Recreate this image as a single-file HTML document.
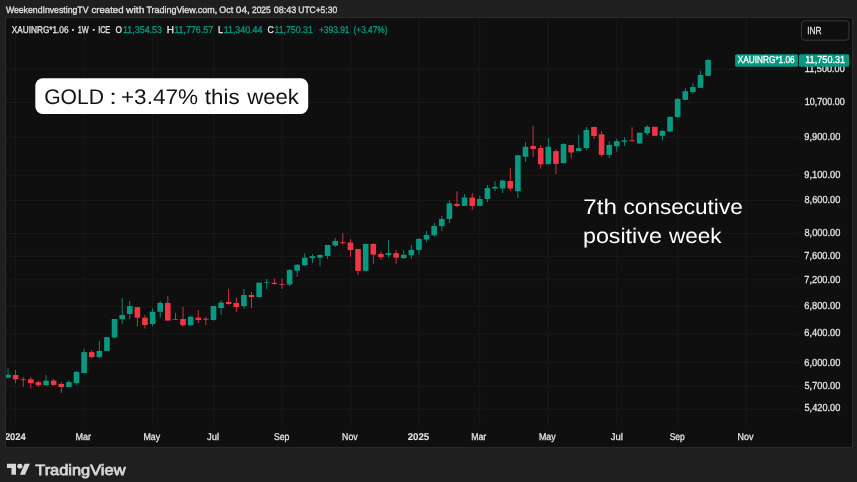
<!DOCTYPE html>
<html lang="en"><head><meta charset="utf-8"><title>XAUINRG chart</title>
<style>html,body{margin:0;padding:0;background:#1f1f1f;width:857px;height:482px;overflow:hidden;}svg{display:block;}text{font-family:"Liberation Sans","DejaVu Sans",sans-serif;text-rendering:geometricPrecision;}</style></head><body>
<svg width="857" height="482" viewBox="0 0 857 482">
<rect x="0" y="0" width="857" height="482" fill="#1f1f1f"/>
<rect x="5.50" y="17.50" width="847.00" height="429.90" fill="#0f0f0f" stroke="#2b2b2b" stroke-width="1"/>
<defs><clipPath id="pane"><rect x="6.00" y="18.00" width="846.00" height="428.90"/></clipPath></defs>
<g clip-path="url(#pane)">
<line x1="15.61" y1="17.50" x2="15.61" y2="425.60" stroke="#191919" stroke-width="1"/>
<line x1="84.10" y1="17.50" x2="84.10" y2="425.60" stroke="#191919" stroke-width="1"/>
<line x1="152.59" y1="17.50" x2="152.59" y2="425.60" stroke="#191919" stroke-width="1"/>
<line x1="213.47" y1="17.50" x2="213.47" y2="425.60" stroke="#191919" stroke-width="1"/>
<line x1="281.96" y1="17.50" x2="281.96" y2="425.60" stroke="#191919" stroke-width="1"/>
<line x1="350.45" y1="17.50" x2="350.45" y2="425.60" stroke="#191919" stroke-width="1"/>
<line x1="418.94" y1="17.50" x2="418.94" y2="425.60" stroke="#191919" stroke-width="1"/>
<line x1="479.82" y1="17.50" x2="479.82" y2="425.60" stroke="#191919" stroke-width="1"/>
<line x1="548.31" y1="17.50" x2="548.31" y2="425.60" stroke="#191919" stroke-width="1"/>
<line x1="616.80" y1="17.50" x2="616.80" y2="425.60" stroke="#191919" stroke-width="1"/>
<line x1="677.68" y1="17.50" x2="677.68" y2="425.60" stroke="#191919" stroke-width="1"/>
<line x1="746.17" y1="17.50" x2="746.17" y2="425.60" stroke="#191919" stroke-width="1"/>
<line x1="5.50" y1="69.30" x2="798.00" y2="69.30" stroke="#191919" stroke-width="1"/>
<line x1="5.50" y1="102.50" x2="798.00" y2="102.50" stroke="#191919" stroke-width="1"/>
<line x1="5.50" y1="137.30" x2="798.00" y2="137.30" stroke="#191919" stroke-width="1"/>
<line x1="5.50" y1="175.25" x2="798.00" y2="175.25" stroke="#191919" stroke-width="1"/>
<line x1="5.50" y1="200.60" x2="798.00" y2="200.60" stroke="#191919" stroke-width="1"/>
<line x1="5.50" y1="233.40" x2="798.00" y2="233.40" stroke="#191919" stroke-width="1"/>
<line x1="5.50" y1="256.30" x2="798.00" y2="256.30" stroke="#191919" stroke-width="1"/>
<line x1="5.50" y1="279.90" x2="798.00" y2="279.90" stroke="#191919" stroke-width="1"/>
<line x1="5.50" y1="306.40" x2="798.00" y2="306.40" stroke="#191919" stroke-width="1"/>
<line x1="5.50" y1="334.10" x2="798.00" y2="334.10" stroke="#191919" stroke-width="1"/>
<line x1="5.50" y1="362.25" x2="798.00" y2="362.25" stroke="#191919" stroke-width="1"/>
<line x1="5.50" y1="386.40" x2="798.00" y2="386.40" stroke="#191919" stroke-width="1"/>
<line x1="5.50" y1="409.30" x2="798.00" y2="409.30" stroke="#191919" stroke-width="1"/>
<rect x="7.58" y="368.10" width="0.85" height="9.60" fill="#089981"/>
<rect x="5.20" y="374.70" width="5.60" height="3.00" fill="#089981"/>
<rect x="15.18" y="370.00" width="0.85" height="13.10" fill="#f23645"/>
<rect x="12.81" y="375.00" width="5.60" height="4.30" fill="#f23645"/>
<rect x="22.79" y="377.10" width="0.85" height="9.70" fill="#f23645"/>
<rect x="20.42" y="379.30" width="5.60" height="0.75" fill="#f23645"/>
<rect x="30.41" y="376.80" width="0.85" height="11.60" fill="#f23645"/>
<rect x="28.03" y="379.30" width="5.60" height="3.80" fill="#f23645"/>
<rect x="38.02" y="380.60" width="0.85" height="6.20" fill="#f23645"/>
<rect x="35.64" y="382.20" width="5.60" height="3.00" fill="#f23645"/>
<rect x="45.63" y="375.00" width="0.85" height="10.20" fill="#089981"/>
<rect x="43.25" y="380.60" width="5.60" height="4.60" fill="#089981"/>
<rect x="53.24" y="379.00" width="0.85" height="7.00" fill="#f23645"/>
<rect x="50.86" y="380.60" width="5.60" height="4.30" fill="#f23645"/>
<rect x="60.85" y="382.20" width="0.85" height="10.90" fill="#f23645"/>
<rect x="58.47" y="383.90" width="5.60" height="3.20" fill="#f23645"/>
<rect x="68.45" y="380.20" width="0.85" height="6.90" fill="#089981"/>
<rect x="66.08" y="382.10" width="5.60" height="5.00" fill="#089981"/>
<rect x="76.07" y="371.00" width="0.85" height="13.90" fill="#089981"/>
<rect x="73.69" y="371.80" width="5.60" height="11.30" fill="#089981"/>
<rect x="83.68" y="348.70" width="0.85" height="24.40" fill="#089981"/>
<rect x="81.30" y="352.10" width="5.60" height="21.00" fill="#089981"/>
<rect x="91.29" y="350.00" width="0.85" height="8.10" fill="#f23645"/>
<rect x="88.91" y="352.10" width="5.60" height="5.00" fill="#f23645"/>
<rect x="98.90" y="341.00" width="0.85" height="17.10" fill="#089981"/>
<rect x="96.52" y="350.90" width="5.60" height="6.20" fill="#089981"/>
<rect x="106.51" y="337.20" width="0.85" height="13.70" fill="#089981"/>
<rect x="104.13" y="337.20" width="5.60" height="13.70" fill="#089981"/>
<rect x="114.12" y="319.00" width="0.85" height="19.40" fill="#089981"/>
<rect x="111.74" y="319.00" width="5.60" height="18.40" fill="#089981"/>
<rect x="121.73" y="298.10" width="0.85" height="25.90" fill="#089981"/>
<rect x="119.35" y="315.00" width="5.60" height="4.30" fill="#089981"/>
<rect x="129.33" y="300.90" width="0.85" height="18.40" fill="#089981"/>
<rect x="126.96" y="306.00" width="5.60" height="8.00" fill="#089981"/>
<rect x="136.94" y="307.10" width="0.85" height="19.10" fill="#f23645"/>
<rect x="134.57" y="307.10" width="5.60" height="10.60" fill="#f23645"/>
<rect x="144.56" y="315.00" width="0.85" height="13.50" fill="#f23645"/>
<rect x="142.18" y="317.70" width="5.60" height="7.30" fill="#f23645"/>
<rect x="152.16" y="308.50" width="0.85" height="17.70" fill="#089981"/>
<rect x="149.79" y="311.80" width="5.60" height="12.20" fill="#089981"/>
<rect x="159.78" y="301.20" width="0.85" height="16.50" fill="#089981"/>
<rect x="157.40" y="302.90" width="5.60" height="8.90" fill="#089981"/>
<rect x="167.38" y="296.20" width="0.85" height="24.40" fill="#f23645"/>
<rect x="165.01" y="302.90" width="5.60" height="17.70" fill="#f23645"/>
<rect x="175.00" y="312.80" width="0.85" height="6.90" fill="#089981"/>
<rect x="172.62" y="319.00" width="5.60" height="0.75" fill="#089981"/>
<rect x="182.60" y="306.90" width="0.85" height="19.90" fill="#f23645"/>
<rect x="180.23" y="319.00" width="5.60" height="6.20" fill="#f23645"/>
<rect x="190.22" y="315.80" width="0.85" height="10.40" fill="#089981"/>
<rect x="187.84" y="316.80" width="5.60" height="8.40" fill="#089981"/>
<rect x="197.82" y="310.00" width="0.85" height="13.10" fill="#f23645"/>
<rect x="195.45" y="317.70" width="5.60" height="2.30" fill="#f23645"/>
<rect x="205.44" y="316.80" width="0.85" height="8.20" fill="#f23645"/>
<rect x="203.06" y="318.70" width="5.60" height="1.00" fill="#f23645"/>
<rect x="213.04" y="306.00" width="0.85" height="14.60" fill="#089981"/>
<rect x="210.67" y="306.00" width="5.60" height="14.00" fill="#089981"/>
<rect x="220.66" y="300.00" width="0.85" height="14.80" fill="#089981"/>
<rect x="218.28" y="302.60" width="5.60" height="5.40" fill="#089981"/>
<rect x="228.26" y="288.70" width="0.85" height="16.20" fill="#f23645"/>
<rect x="225.89" y="302.00" width="5.60" height="2.00" fill="#f23645"/>
<rect x="235.88" y="297.80" width="0.85" height="14.00" fill="#f23645"/>
<rect x="233.50" y="303.00" width="5.60" height="4.00" fill="#f23645"/>
<rect x="243.48" y="289.00" width="0.85" height="19.80" fill="#089981"/>
<rect x="241.11" y="295.00" width="5.60" height="11.10" fill="#089981"/>
<rect x="251.09" y="292.10" width="0.85" height="16.00" fill="#f23645"/>
<rect x="248.72" y="295.00" width="5.60" height="2.10" fill="#f23645"/>
<rect x="258.70" y="282.70" width="0.85" height="14.40" fill="#089981"/>
<rect x="256.33" y="282.70" width="5.60" height="14.40" fill="#089981"/>
<rect x="266.31" y="279.00" width="0.85" height="10.30" fill="#089981"/>
<rect x="263.94" y="282.20" width="5.60" height="0.75" fill="#089981"/>
<rect x="273.93" y="278.50" width="0.85" height="6.20" fill="#f23645"/>
<rect x="271.55" y="282.80" width="5.60" height="1.20" fill="#f23645"/>
<rect x="281.54" y="278.50" width="0.85" height="10.50" fill="#f23645"/>
<rect x="279.16" y="284.10" width="5.60" height="0.75" fill="#f23645"/>
<rect x="289.14" y="269.00" width="0.85" height="17.20" fill="#089981"/>
<rect x="286.77" y="270.00" width="5.60" height="14.50" fill="#089981"/>
<rect x="296.75" y="264.00" width="0.85" height="12.80" fill="#089981"/>
<rect x="294.38" y="264.80" width="5.60" height="5.90" fill="#089981"/>
<rect x="304.37" y="253.10" width="0.85" height="12.90" fill="#089981"/>
<rect x="301.99" y="257.70" width="5.60" height="7.50" fill="#089981"/>
<rect x="311.98" y="254.00" width="0.85" height="9.10" fill="#089981"/>
<rect x="309.60" y="256.20" width="5.60" height="1.90" fill="#089981"/>
<rect x="319.58" y="254.30" width="0.85" height="11.70" fill="#089981"/>
<rect x="317.21" y="255.00" width="5.60" height="2.70" fill="#089981"/>
<rect x="327.19" y="245.00" width="0.85" height="14.00" fill="#089981"/>
<rect x="324.82" y="245.00" width="5.60" height="11.00" fill="#089981"/>
<rect x="334.81" y="237.90" width="0.85" height="8.90" fill="#089981"/>
<rect x="332.43" y="240.90" width="5.60" height="4.70" fill="#089981"/>
<rect x="342.42" y="233.10" width="0.85" height="11.30" fill="#f23645"/>
<rect x="340.04" y="242.20" width="5.60" height="0.90" fill="#f23645"/>
<rect x="350.02" y="239.10" width="0.85" height="17.70" fill="#f23645"/>
<rect x="347.65" y="242.50" width="5.60" height="7.50" fill="#f23645"/>
<rect x="357.63" y="249.00" width="0.85" height="25.90" fill="#f23645"/>
<rect x="355.26" y="249.00" width="5.60" height="21.90" fill="#f23645"/>
<rect x="365.25" y="244.00" width="0.85" height="26.90" fill="#089981"/>
<rect x="362.87" y="244.00" width="5.60" height="26.90" fill="#089981"/>
<rect x="372.86" y="243.10" width="0.85" height="20.60" fill="#f23645"/>
<rect x="370.48" y="244.00" width="5.60" height="10.60" fill="#f23645"/>
<rect x="380.47" y="251.80" width="0.85" height="8.20" fill="#f23645"/>
<rect x="378.09" y="254.00" width="5.60" height="3.20" fill="#f23645"/>
<rect x="388.07" y="240.00" width="0.85" height="17.50" fill="#089981"/>
<rect x="385.70" y="253.20" width="5.60" height="1.80" fill="#089981"/>
<rect x="395.69" y="250.00" width="0.85" height="13.70" fill="#f23645"/>
<rect x="393.31" y="253.10" width="5.60" height="4.60" fill="#f23645"/>
<rect x="403.30" y="250.20" width="0.85" height="8.70" fill="#089981"/>
<rect x="400.92" y="254.70" width="5.60" height="3.40" fill="#089981"/>
<rect x="410.91" y="245.00" width="0.85" height="13.90" fill="#089981"/>
<rect x="408.53" y="249.90" width="5.60" height="5.30" fill="#089981"/>
<rect x="418.51" y="238.10" width="0.85" height="16.80" fill="#089981"/>
<rect x="416.14" y="239.00" width="5.60" height="10.90" fill="#089981"/>
<rect x="426.12" y="231.00" width="0.85" height="11.10" fill="#089981"/>
<rect x="423.75" y="235.00" width="5.60" height="4.60" fill="#089981"/>
<rect x="433.74" y="222.90" width="0.85" height="13.90" fill="#089981"/>
<rect x="431.36" y="226.00" width="5.60" height="9.20" fill="#089981"/>
<rect x="441.35" y="216.00" width="0.85" height="15.00" fill="#089981"/>
<rect x="438.97" y="219.00" width="5.60" height="7.20" fill="#089981"/>
<rect x="448.95" y="200.20" width="0.85" height="22.90" fill="#089981"/>
<rect x="446.58" y="203.30" width="5.60" height="15.60" fill="#089981"/>
<rect x="456.56" y="191.20" width="0.85" height="15.90" fill="#f23645"/>
<rect x="454.19" y="203.90" width="5.60" height="2.00" fill="#f23645"/>
<rect x="464.18" y="194.00" width="0.85" height="11.90" fill="#089981"/>
<rect x="461.80" y="197.50" width="5.60" height="8.40" fill="#089981"/>
<rect x="471.79" y="193.10" width="0.85" height="16.80" fill="#f23645"/>
<rect x="469.41" y="197.50" width="5.60" height="8.40" fill="#f23645"/>
<rect x="479.39" y="196.00" width="0.85" height="9.90" fill="#089981"/>
<rect x="477.02" y="199.00" width="5.60" height="6.90" fill="#089981"/>
<rect x="487.00" y="185.00" width="0.85" height="17.20" fill="#089981"/>
<rect x="484.63" y="188.10" width="5.60" height="10.90" fill="#089981"/>
<rect x="494.62" y="181.00" width="0.85" height="10.00" fill="#089981"/>
<rect x="492.24" y="186.80" width="5.60" height="1.70" fill="#089981"/>
<rect x="502.23" y="179.70" width="0.85" height="13.40" fill="#089981"/>
<rect x="499.85" y="180.60" width="5.60" height="7.90" fill="#089981"/>
<rect x="509.84" y="168.10" width="0.85" height="22.90" fill="#f23645"/>
<rect x="507.46" y="181.00" width="5.60" height="7.50" fill="#f23645"/>
<rect x="517.45" y="155.00" width="0.85" height="43.10" fill="#089981"/>
<rect x="515.07" y="155.30" width="5.60" height="35.90" fill="#089981"/>
<rect x="525.06" y="142.20" width="0.85" height="19.60" fill="#089981"/>
<rect x="522.68" y="146.80" width="5.60" height="10.00" fill="#089981"/>
<rect x="532.67" y="126.00" width="0.85" height="30.80" fill="#f23645"/>
<rect x="530.29" y="146.00" width="5.60" height="3.00" fill="#f23645"/>
<rect x="540.28" y="145.00" width="0.85" height="23.70" fill="#f23645"/>
<rect x="537.90" y="148.10" width="5.60" height="16.20" fill="#f23645"/>
<rect x="547.89" y="138.10" width="0.85" height="26.20" fill="#089981"/>
<rect x="545.51" y="146.80" width="5.60" height="17.50" fill="#089981"/>
<rect x="555.50" y="149.30" width="0.85" height="24.60" fill="#f23645"/>
<rect x="553.12" y="151.20" width="5.60" height="12.70" fill="#f23645"/>
<rect x="563.11" y="143.10" width="0.85" height="20.60" fill="#089981"/>
<rect x="560.73" y="144.00" width="5.60" height="19.10" fill="#089981"/>
<rect x="570.72" y="145.00" width="0.85" height="13.50" fill="#f23645"/>
<rect x="568.34" y="145.00" width="5.60" height="7.50" fill="#f23645"/>
<rect x="578.33" y="135.00" width="0.85" height="16.00" fill="#089981"/>
<rect x="575.95" y="148.10" width="5.60" height="2.90" fill="#089981"/>
<rect x="585.94" y="127.20" width="0.85" height="22.80" fill="#089981"/>
<rect x="583.56" y="130.00" width="5.60" height="18.10" fill="#089981"/>
<rect x="593.55" y="126.90" width="0.85" height="12.10" fill="#f23645"/>
<rect x="591.17" y="126.90" width="5.60" height="9.10" fill="#f23645"/>
<rect x="601.16" y="131.20" width="0.85" height="25.60" fill="#f23645"/>
<rect x="598.78" y="134.30" width="5.60" height="20.60" fill="#f23645"/>
<rect x="608.77" y="141.20" width="0.85" height="16.90" fill="#089981"/>
<rect x="606.39" y="144.90" width="5.60" height="10.00" fill="#089981"/>
<rect x="616.38" y="138.70" width="0.85" height="13.10" fill="#089981"/>
<rect x="614.00" y="141.20" width="5.60" height="5.00" fill="#089981"/>
<rect x="623.99" y="137.50" width="0.85" height="8.40" fill="#089981"/>
<rect x="621.61" y="140.30" width="5.60" height="1.50" fill="#089981"/>
<rect x="631.60" y="127.20" width="0.85" height="14.30" fill="#f23645"/>
<rect x="629.22" y="140.30" width="5.60" height="0.90" fill="#f23645"/>
<rect x="639.21" y="132.70" width="0.85" height="11.20" fill="#089981"/>
<rect x="636.83" y="132.70" width="5.60" height="10.80" fill="#089981"/>
<rect x="646.82" y="125.00" width="0.85" height="10.00" fill="#089981"/>
<rect x="644.44" y="126.80" width="5.60" height="6.30" fill="#089981"/>
<rect x="654.43" y="126.80" width="0.85" height="9.00" fill="#f23645"/>
<rect x="652.05" y="126.80" width="5.60" height="9.00" fill="#f23645"/>
<rect x="662.04" y="130.00" width="0.85" height="10.60" fill="#089981"/>
<rect x="659.66" y="131.00" width="5.60" height="4.80" fill="#089981"/>
<rect x="669.65" y="116.20" width="0.85" height="16.00" fill="#089981"/>
<rect x="667.27" y="116.90" width="5.60" height="14.60" fill="#089981"/>
<rect x="677.26" y="98.10" width="0.85" height="19.70" fill="#089981"/>
<rect x="674.88" y="98.90" width="5.60" height="18.20" fill="#089981"/>
<rect x="684.87" y="88.10" width="0.85" height="11.80" fill="#089981"/>
<rect x="682.49" y="91.20" width="5.60" height="8.70" fill="#089981"/>
<rect x="692.48" y="83.10" width="0.85" height="10.80" fill="#089981"/>
<rect x="690.10" y="87.10" width="5.60" height="5.00" fill="#089981"/>
<rect x="700.09" y="71.00" width="0.85" height="16.80" fill="#089981"/>
<rect x="697.71" y="75.00" width="5.60" height="12.80" fill="#089981"/>
<rect x="707.70" y="59.00" width="0.85" height="16.80" fill="#089981"/>
<rect x="705.32" y="60.00" width="5.60" height="15.80" fill="#089981"/>
</g>
<g opacity="0.999">
<text x="5.90" y="12.55" font-size="9.40" fill="#e2e2e2" stroke="#e2e2e2" stroke-width="0.32" textLength="82.56" lengthAdjust="spacingAndGlyphs" >WeekendInvestingTV</text>
<text x="91.40" y="12.55" font-size="9.40" fill="#e2e2e2" stroke="#e2e2e2" stroke-width="0.32" textLength="32.24" lengthAdjust="spacingAndGlyphs" >created</text>
<text x="126.06" y="12.55" font-size="9.40" fill="#e2e2e2" stroke="#e2e2e2" stroke-width="0.32" textLength="18.32" lengthAdjust="spacingAndGlyphs" >with</text>
<text x="146.46" y="12.55" font-size="9.40" fill="#e2e2e2" stroke="#e2e2e2" stroke-width="0.32" textLength="70.81" lengthAdjust="spacingAndGlyphs" >TradingView.com,</text>
<text x="219.28" y="12.55" font-size="9.40" fill="#e2e2e2" stroke="#e2e2e2" stroke-width="0.32" textLength="13.89" lengthAdjust="spacingAndGlyphs" >Oct</text>
<text x="235.89" y="12.55" font-size="9.40" fill="#e2e2e2" stroke="#e2e2e2" stroke-width="0.32" textLength="13.96" lengthAdjust="spacingAndGlyphs" >04,</text>
<text x="251.90" y="12.55" font-size="9.40" fill="#e2e2e2" stroke="#e2e2e2" stroke-width="0.32" textLength="18.94" lengthAdjust="spacingAndGlyphs" >2025</text>
<text x="273.72" y="12.55" font-size="9.40" fill="#e2e2e2" stroke="#e2e2e2" stroke-width="0.32" textLength="22.65" lengthAdjust="spacingAndGlyphs" >08:43</text>
<text x="298.27" y="12.55" font-size="9.40" fill="#e2e2e2" stroke="#e2e2e2" stroke-width="0.32" textLength="38.84" lengthAdjust="spacingAndGlyphs" >UTC+5:30</text>
<text x="11.77" y="32.60" font-size="9.80" fill="#e2e2e2" stroke="#e2e2e2" stroke-width="0.32" textLength="56.76" lengthAdjust="spacingAndGlyphs" >XAUINRG*1.06</text>
<text x="77.74" y="32.60" font-size="9.80" fill="#e2e2e2" stroke="#e2e2e2" stroke-width="0.32" textLength="11.09" lengthAdjust="spacingAndGlyphs" >1W</text>
<text x="98.13" y="32.60" font-size="9.80" fill="#e2e2e2" stroke="#e2e2e2" stroke-width="0.32" textLength="12.07" lengthAdjust="spacingAndGlyphs" >ICE</text>
<text x="115.61" y="32.60" font-size="9.80" fill="#e2e2e2" stroke="#e2e2e2" stroke-width="0.32" textLength="6.45" lengthAdjust="spacingAndGlyphs" >O</text>
<text x="122.94" y="32.60" font-size="9.80" fill="#089981" stroke="#089981" stroke-width="0.32" textLength="39.12" lengthAdjust="spacingAndGlyphs" >11,354.53</text>
<text x="166.82" y="32.60" font-size="9.80" fill="#e2e2e2" stroke="#e2e2e2" stroke-width="0.32" textLength="7.19" lengthAdjust="spacingAndGlyphs" >H</text>
<text x="174.35" y="32.60" font-size="9.80" fill="#089981" stroke="#089981" stroke-width="0.32" textLength="38.71" lengthAdjust="spacingAndGlyphs" >11,776.57</text>
<text x="217.98" y="32.60" font-size="9.80" fill="#e2e2e2" stroke="#e2e2e2" stroke-width="0.32" textLength="5.15" lengthAdjust="spacingAndGlyphs" >L</text>
<text x="223.75" y="32.60" font-size="9.80" fill="#089981" stroke="#089981" stroke-width="0.32" textLength="38.57" lengthAdjust="spacingAndGlyphs" >11,340.44</text>
<text x="267.59" y="32.60" font-size="9.80" fill="#e2e2e2" stroke="#e2e2e2" stroke-width="0.32" textLength="6.31" lengthAdjust="spacingAndGlyphs" >C</text>
<text x="274.45" y="32.60" font-size="9.80" fill="#089981" stroke="#089981" stroke-width="0.32" textLength="38.40" lengthAdjust="spacingAndGlyphs" >11,750.31</text>
<text x="318.91" y="32.60" font-size="9.80" fill="#089981" stroke="#089981" stroke-width="0.32" textLength="30.64" lengthAdjust="spacingAndGlyphs" >+393.91</text>
<text x="353.51" y="32.60" font-size="9.80" fill="#089981" stroke="#089981" stroke-width="0.32" textLength="34.02" lengthAdjust="spacingAndGlyphs" >(+3.47%)</text>
<text x="72.80" y="32.60" font-size="11.50" fill="#e2e2e2" stroke="#e2e2e2" stroke-width="0.60" text-anchor="middle" >·</text>
<text x="93.60" y="32.60" font-size="11.50" fill="#e2e2e2" stroke="#e2e2e2" stroke-width="0.60" text-anchor="middle" >·</text>
<rect x="801.5" y="20.8" width="47.5" height="19.4" rx="3" ry="3" fill="none" stroke="#3a3a3a" stroke-width="1"/>
<text x="807.25" y="34.20" font-size="10.20" fill="#e2e2e2" stroke="#e2e2e2" stroke-width="0.32" textLength="14.34" lengthAdjust="spacingAndGlyphs" >INR</text>
<text x="804.83" y="72.20" font-size="10.20" fill="#e2e2e2" stroke="#e2e2e2" stroke-width="0.32" textLength="39.90" lengthAdjust="spacingAndGlyphs" >11,500.00</text>
<text x="804.84" y="104.85" font-size="10.20" fill="#e2e2e2" stroke="#e2e2e2" stroke-width="0.32" textLength="39.88" lengthAdjust="spacingAndGlyphs" >10,700.00</text>
<text x="804.37" y="140.10" font-size="10.20" fill="#e2e2e2" stroke="#e2e2e2" stroke-width="0.32" textLength="35.96" lengthAdjust="spacingAndGlyphs" >9,900.00</text>
<text x="804.37" y="178.00" font-size="10.20" fill="#e2e2e2" stroke="#e2e2e2" stroke-width="0.32" textLength="35.96" lengthAdjust="spacingAndGlyphs" >9,100.00</text>
<text x="804.51" y="203.00" font-size="10.20" fill="#e2e2e2" stroke="#e2e2e2" stroke-width="0.32" textLength="35.82" lengthAdjust="spacingAndGlyphs" >8,600.00</text>
<text x="804.51" y="236.10" font-size="10.20" fill="#e2e2e2" stroke="#e2e2e2" stroke-width="0.32" textLength="35.82" lengthAdjust="spacingAndGlyphs" >8,000.00</text>
<text x="804.37" y="259.10" font-size="10.20" fill="#e2e2e2" stroke="#e2e2e2" stroke-width="0.32" textLength="35.96" lengthAdjust="spacingAndGlyphs" >7,600.00</text>
<text x="804.37" y="282.60" font-size="10.20" fill="#e2e2e2" stroke="#e2e2e2" stroke-width="0.32" textLength="35.96" lengthAdjust="spacingAndGlyphs" >7,200.00</text>
<text x="804.37" y="309.10" font-size="10.20" fill="#e2e2e2" stroke="#e2e2e2" stroke-width="0.32" textLength="35.96" lengthAdjust="spacingAndGlyphs" >6,800.00</text>
<text x="804.37" y="336.10" font-size="10.20" fill="#e2e2e2" stroke="#e2e2e2" stroke-width="0.32" textLength="35.96" lengthAdjust="spacingAndGlyphs" >6,400.00</text>
<text x="804.37" y="365.75" font-size="10.20" fill="#e2e2e2" stroke="#e2e2e2" stroke-width="0.32" textLength="35.96" lengthAdjust="spacingAndGlyphs" >6,000.00</text>
<text x="804.51" y="388.70" font-size="10.20" fill="#e2e2e2" stroke="#e2e2e2" stroke-width="0.32" textLength="35.82" lengthAdjust="spacingAndGlyphs" >5,700.00</text>
<text x="804.51" y="411.10" font-size="10.20" fill="#e2e2e2" stroke="#e2e2e2" stroke-width="0.32" textLength="35.82" lengthAdjust="spacingAndGlyphs" >5,420.00</text>
<rect x="735.1" y="54.2" width="63.0" height="12.5" rx="1.5" fill="#089981"/>
<rect x="799.0" y="54.2" width="50.2" height="12.5" rx="1.5" fill="#089981"/>
<text x="737.67" y="63.40" font-size="10.20" fill="#ffffff" stroke="#ffffff" stroke-width="0.32" textLength="57.06" lengthAdjust="spacingAndGlyphs" >XAUINRG*1.06</text>
<text x="805.23" y="63.40" font-size="10.20" fill="#ffffff" stroke="#ffffff" stroke-width="0.32" textLength="39.94" lengthAdjust="spacingAndGlyphs" >11,750.31</text>
<g clip-path="url(#pane)">
<text x="4.91" y="440.20" font-size="9.80" fill="#e2e2e2" stroke="#e2e2e2" stroke-width="0.10" textLength="20.83" lengthAdjust="spacingAndGlyphs" font-weight="bold" >2024</text>
<text x="75.49" y="440.20" font-size="9.80" fill="#e2e2e2" stroke="#e2e2e2" stroke-width="0.32" textLength="15.55" lengthAdjust="spacingAndGlyphs" >Mar</text>
<text x="143.51" y="440.20" font-size="9.80" fill="#e2e2e2" stroke="#e2e2e2" stroke-width="0.32" textLength="16.69" lengthAdjust="spacingAndGlyphs" >May</text>
<text x="207.05" y="440.20" font-size="9.80" fill="#e2e2e2" stroke="#e2e2e2" stroke-width="0.32" textLength="11.96" lengthAdjust="spacingAndGlyphs" >Jul</text>
<text x="273.93" y="440.20" font-size="9.80" fill="#e2e2e2" stroke="#e2e2e2" stroke-width="0.32" textLength="15.42" lengthAdjust="spacingAndGlyphs" >Sep</text>
<text x="342.12" y="440.20" font-size="9.80" fill="#e2e2e2" stroke="#e2e2e2" stroke-width="0.32" textLength="15.48" lengthAdjust="spacingAndGlyphs" >Nov</text>
<text x="407.70" y="440.20" font-size="9.80" fill="#e2e2e2" stroke="#e2e2e2" stroke-width="0.10" textLength="21.54" lengthAdjust="spacingAndGlyphs" font-weight="bold" >2025</text>
<text x="471.22" y="440.20" font-size="9.80" fill="#e2e2e2" stroke="#e2e2e2" stroke-width="0.32" textLength="15.02" lengthAdjust="spacingAndGlyphs" >Mar</text>
<text x="538.91" y="440.20" font-size="9.80" fill="#e2e2e2" stroke="#e2e2e2" stroke-width="0.32" textLength="16.69" lengthAdjust="spacingAndGlyphs" >May</text>
<text x="610.85" y="440.20" font-size="9.80" fill="#e2e2e2" stroke="#e2e2e2" stroke-width="0.32" textLength="12.07" lengthAdjust="spacingAndGlyphs" >Jul</text>
<text x="669.63" y="440.20" font-size="9.80" fill="#e2e2e2" stroke="#e2e2e2" stroke-width="0.32" textLength="15.11" lengthAdjust="spacingAndGlyphs" >Sep</text>
<text x="737.61" y="440.20" font-size="9.80" fill="#e2e2e2" stroke="#e2e2e2" stroke-width="0.32" textLength="15.79" lengthAdjust="spacingAndGlyphs" >Nov</text>
</g>
<rect x="35.3" y="78.2" width="272.9" height="35.8" rx="7.5" ry="7.5" fill="#ffffff"/>
<text x="44.21" y="103.50" font-size="21.20" fill="#141414" textLength="59.82" lengthAdjust="spacingAndGlyphs" >GOLD</text>
<text x="109.16" y="103.50" font-size="21.20" fill="#141414" textLength="7.62" lengthAdjust="spacingAndGlyphs" >:</text>
<text x="120.94" y="103.50" font-size="21.20" fill="#141414" textLength="77.13" lengthAdjust="spacingAndGlyphs" >+3.47%</text>
<text x="204.80" y="103.50" font-size="21.20" fill="#141414" textLength="34.80" lengthAdjust="spacingAndGlyphs" >this</text>
<text x="247.15" y="103.50" font-size="21.20" fill="#141414" textLength="51.81" lengthAdjust="spacingAndGlyphs" >week</text>
<text x="583.27" y="213.80" font-size="21.20" fill="#ffffff" textLength="33.59" lengthAdjust="spacingAndGlyphs" >7th</text>
<text x="623.60" y="213.80" font-size="21.20" fill="#ffffff" textLength="119.12" lengthAdjust="spacingAndGlyphs" >consecutive</text>
<text x="582.95" y="243.10" font-size="21.20" fill="#ffffff" textLength="78.90" lengthAdjust="spacingAndGlyphs" >positive</text>
<text x="669.05" y="243.10" font-size="21.20" fill="#ffffff" textLength="52.50" lengthAdjust="spacingAndGlyphs" >week</text>
<g transform="translate(6.95,461.15) scale(0.645,0.622)" fill="#d9d9d9"><path d="M14 22H7V11H0V4h14v18z"/><circle cx="20" cy="8" r="4"/><path d="M28 22h-8l7.5-18h8L28 22z"/></g>
<text x="35.24" y="474.60" font-size="14.90" fill="#d9d9d9" stroke="#d9d9d9" stroke-width="0.75" textLength="90.26" lengthAdjust="spacingAndGlyphs" >TradingView</text>
</g>
</svg></body></html>
